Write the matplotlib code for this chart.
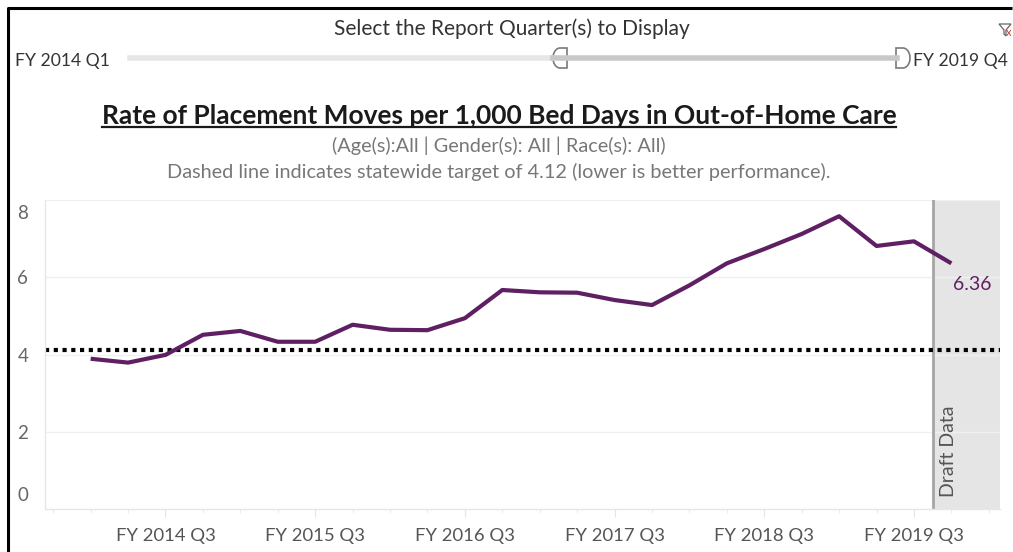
import numpy as np
import matplotlib
matplotlib.use('Agg')
import matplotlib.pyplot as plt
from matplotlib.lines import Line2D
from matplotlib.patches import Polygon
from matplotlib.transforms import ScaledTranslation

plt.rcParams['font.family'] = ['Lato', 'DejaVu Sans']

# data
quarters = ['FY %d Q%d' % (y, q) for y in range(2014, 2020) for q in range(1, 5)]
rates = [3.89, 3.79, 3.99, 4.51, 4.61, 4.33, 4.33, 4.77, 4.64, 4.63, 4.94, 5.67,
         5.61, 5.60, 5.41, 5.28, 5.79, 6.36, 6.73, 7.12, 7.58, 6.81, 6.93, 6.36]
target = 4.12
draft_from = 'FY 2019 Q4'
y_ticks = [0, 2, 4, 6, 8]

purple = '#5f1f63'
x = np.arange(len(quarters))
W, H = 1013, 552


def px(xp, yp):
    # pixel position (from top-left) -> figure fraction
    return xp / W, 1 - yp / H


fig = plt.figure(figsize=(W/100, H/100), dpi=100)
ax = fig.add_axes([45/W, 1-509/H, (1000-45)/W, (509-200)/H])

xmin, xmax = -1.22, 24.3
ax.set_xlim(xmin, xmax)
ax.set_ylim(0, 8)

# draft shading
d = quarters.index(draft_from) - 0.5
ax.axvspan(d, xmax, color='#e5e5e5', zorder=0, lw=0)
ax.axvline(d, color='#a6a6a6', lw=2, zorder=1)
ax.text(d + 0.42, 0.3, 'Draft Data', rotation=90, ha='center', va='bottom',
        fontsize=14, color='#555555', zorder=3)

# gridlines
for yt in y_ticks[1:]:
    ax.axhline(yt, color='#f0f0f0', lw=1, zorder=0.5)

ax.axhline(target, color='black', lw=3, linestyle=(0, (1, 1.1)), zorder=2)
ax.plot(x, rates, color=purple, lw=3, solid_capstyle='butt', zorder=4)
ax.text(x[-1] + 0.55, rates[-1] - 0.33, '%.2f' % rates[-1], color=purple,
        fontsize=14, ha='center', va='top', zorder=5)

for s in ['top', 'right']:
    ax.spines[s].set_visible(False)
for s in ['left', 'bottom']:
    ax.spines[s].set_color('#e6e6e6')
    ax.spines[s].set_linewidth(1)

ax.set_yticks(y_ticks)
ax.set_yticklabels([str(v) for v in y_ticks])
ax.tick_params(axis='y', length=0, pad=12, labelsize=13.5, labelcolor='#666666')
labs = ax.get_yticklabels()
labs[0].set_transform(labs[0].get_transform() + ScaledTranslation(0, 15/100, fig.dpi_scale_trans))
labs[-1].set_transform(labs[-1].get_transform() + ScaledTranslation(0, -12/100, fig.dpi_scale_trans))

major = [i for i, q in enumerate(quarters) if q.endswith('Q3')]
ax.set_xticks(major)
ax.set_xticklabels([quarters[i] for i in major])
ax.set_xticks(np.arange(-1, 25), minor=True)
ax.tick_params(axis='x', which='major', length=6, color='#e6e6e6', pad=8,
               labelsize=13.3, labelcolor='#555555')
ax.tick_params(axis='x', which='minor', length=3, color='#e6e6e6')

# header texts
fig.text(*px(512, 29), 'Select the Report Quarter(s) to Display', ha='center',
         va='center', fontsize=15, color='#333333')
fig.text(*px(15, 61), 'FY 2014 Q1', ha='left', va='center', fontsize=12.6, color='#333333')
fig.text(*px(913, 61), 'FY 2019 Q4', ha='left', va='center', fontsize=12.6, color='#333333')

# slider
fig.add_artist(Line2D([130/W, 553/W], [1-58/H]*2, color='#e6e6e6', lw=4))
fig.add_artist(Line2D([553/W, 897/W], [1-58/H]*2, color='#c8c8c8', lw=4))
t = np.linspace(np.pi/2, 3*np.pi/2, 20)
hy = np.concatenate([[48], 58 - 10*np.sin(t), [68]])
hx = np.concatenate([[567], 560 + 7*np.cos(t), [567]])
fig.add_artist(Polygon(np.c_[hx/W, 1-hy/H], closed=True, fc='white', ec='#7a7a7a', lw=1.2))
hx2 = np.concatenate([[896], 903 - 7*np.cos(t), [896]])
fig.add_artist(Polygon(np.c_[hx2/W, 1-hy/H], closed=True, fc='white', ec='#7a7a7a', lw=1.2))

# filter icon
funnel = np.array([[999, 24], [1011, 24], [1006, 30], [1006, 36], [1004, 34], [1004, 30]], float)
fig.add_artist(Polygon(np.c_[funnel[:, 0]/W, 1-funnel[:, 1]/H], closed=True, fill=False,
                       ec='#666666', lw=0.9))
fig.text(*px(1009, 33), 'x', color='#d9342b', fontsize=8, ha='center', va='center')

# title with underline
title = fig.text(*px(499, 116), 'Rate of Placement Moves per 1,000 Bed Days in Out-of-Home Care',
                 ha='center', va='center', fontsize=19, fontweight='bold', color='#1a1a1a')
fig.text(*px(499, 146), '(Age(s):All | Gender(s): All | Race(s): All)', ha='center',
         va='center', fontsize=14.3, color='#777777')
fig.text(*px(499, 172), 'Dashed line indicates statewide target of 4.12 (lower is better performance).',
         ha='center', va='center', fontsize=14.3, color='#777777')

fig.canvas.draw()
bb = title.get_window_extent().transformed(fig.transFigure.inverted())
fig.add_artist(Line2D([bb.x0, bb.x1], [bb.y0 + 0.001]*2, color='#1a1a1a', lw=1.6))

# outer border
fig.add_artist(Line2D([8/W, 8/W, 1012/W], [0, 1-8/H, 1-8/H], color='black', lw=2.2,
                      solid_capstyle='butt'))

fig.savefig('out.png', dpi=100)
